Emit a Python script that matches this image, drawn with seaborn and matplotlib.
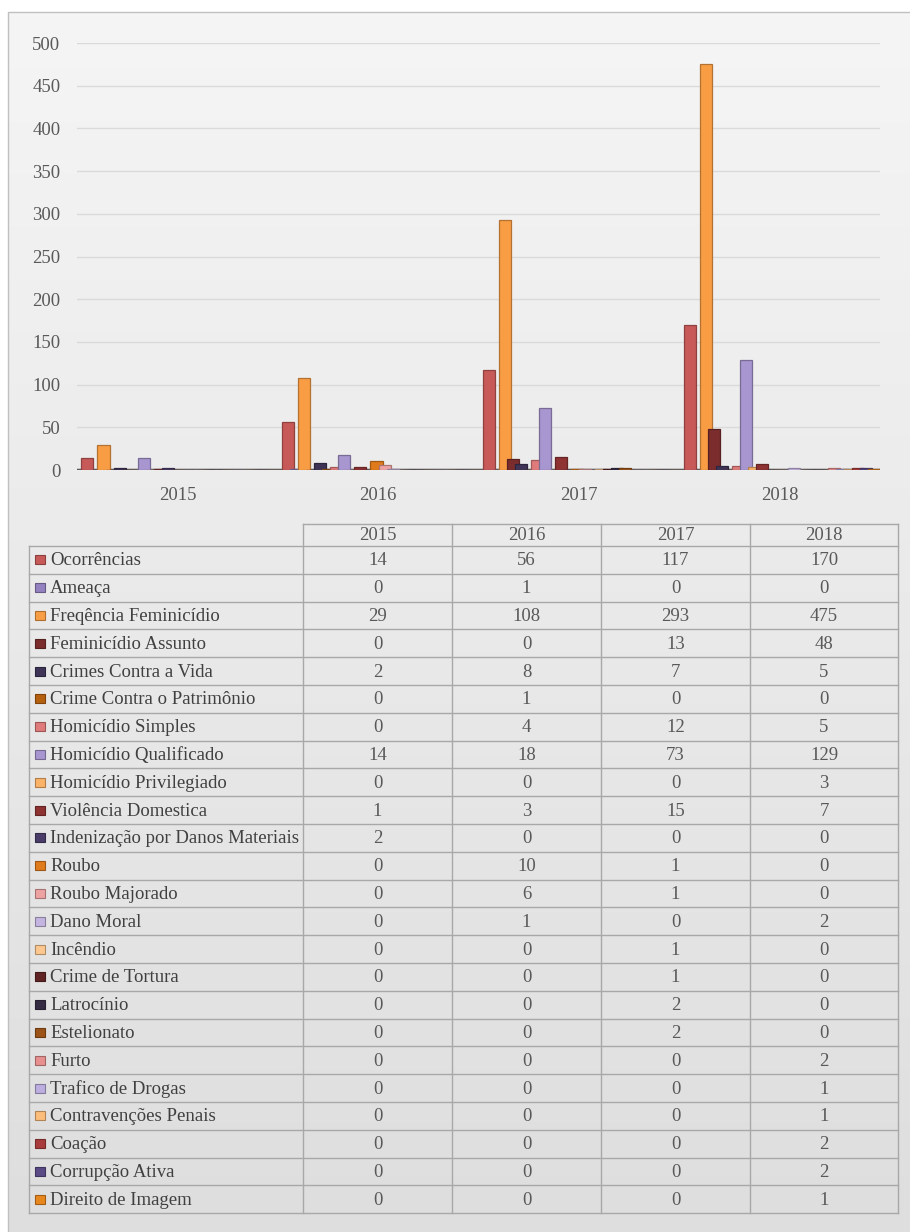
import numpy as np
import pandas as pd
import matplotlib
matplotlib.use('Agg')
import matplotlib.pyplot as plt
import matplotlib.colors as mcolors
from matplotlib.patches import Rectangle
import seaborn as sns

# Data
years = ['2015', '2016', '2017', '2018']
crimes = [
    'Ocorrências', 'Ameaça', 'Freqência Feminicídio', 'Feminicídio Assunto',
    'Crimes Contra a Vida', 'Crime Contra o Patrimônio', 'Homicídio Simples',
    'Homicídio Qualificado', 'Homicídio Privilegiado', 'Violência Domestica',
    'Indenização por Danos Materiais', 'Roubo', 'Roubo Majorado', 'Dano Moral',
    'Incêndio', 'Crime de Tortura', 'Latrocínio', 'Estelionato', 'Furto',
    'Trafico de Drogas', 'Contravenções Penais', 'Coação', 'Corrupção Ativa',
    'Direito de Imagem',
]
v2015 = [14, 0, 29, 0, 2, 0, 0, 14, 0, 1, 2, 0, 0, 0, 0, 0, 0, 0, 0, 0, 0, 0, 0, 0]
v2016 = [56, 1, 108, 0, 8, 1, 4, 18, 0, 3, 0, 10, 6, 1, 0, 0, 0, 0, 0, 0, 0, 0, 0, 0]
v2017 = [117, 0, 293, 13, 7, 0, 12, 73, 0, 15, 0, 1, 1, 0, 1, 1, 2, 2, 0, 0, 0, 0, 0, 0]
v2018 = [170, 0, 475, 48, 5, 0, 5, 129, 3, 7, 0, 0, 0, 2, 0, 0, 0, 0, 2, 1, 1, 2, 2, 1]

colors = [
    '#c75a58', '#9481c0', '#f99d45', '#7a2d2c', '#3f3456', '#b5600f',
    '#e07b7b', '#a796cf', '#fbb36a', '#8e3232', '#4a3c68', '#e07b1c',
    '#eea3a3', '#c4b5e0', '#fcc890', '#612424', '#352c44', '#9c5418',
    '#e89090', '#bcaee0', '#fdbd7a', '#a83c3c', '#5a4a85', '#e8871e',
]

wide = pd.DataFrame({'crime': crimes, '2015': v2015, '2016': v2016,
                     '2017': v2017, '2018': v2018})
df = wide.melt(id_vars='crime', var_name='year', value_name='count')


def darker(c, f=0.7):
    r, g, b = mcolors.to_rgb(c)
    return (r * f, g * f, b * f)


plt.rcParams['font.family'] = ['Liberation Serif', 'DejaVu Serif']

W, H = 910, 1232
fig = plt.figure(figsize=(W / 100, H / 100), dpi=100)
fig.patch.set_facecolor('white')


def px(x0, y0, x1, y1):
    return [x0 / W, 1 - y1 / H, (x1 - x0) / W, (y1 - y0) / H]


# background panel with soft gradient
bg = fig.add_axes(px(8, 12, W, H))
grad = np.linspace(0, 1, 256).reshape(-1, 1)
cmap = mcolors.LinearSegmentedColormap.from_list('bg', ['#f5f5f5', '#dedede'])
bg.imshow(grad, aspect='auto', cmap=cmap, extent=[0, 1, 0, 1])
bg.set_axis_off()
fig.patches.append(Rectangle((8 / W, -0.01), 1, 1 - 12 / H + 0.01,
                             transform=fig.transFigure, fill=False,
                             edgecolor='#c0c0c0', lw=1))

# --- BAR CHART ---
ax = fig.add_axes(px(77, 43, 880, 470))
ax.set_facecolor('none')
sns.barplot(data=df, x='year', y='count', hue='crime', order=years,
            hue_order=crimes, palette=colors, width=0.96, saturation=1,
            legend=False, ax=ax)

# widen bars a bit so they overlap like the 3D columns
for p in ax.patches:
    w = p.get_width()
    p.set_x(p.get_x() - w * 0.25 + 0.012)
    p.set_width(w * 1.5)
    fc = p.get_facecolor()
    p.set_edgecolor(darker(fc[:3], 0.72))
    p.set_linewidth(0.9)

ax.set_ylim(0, 500)
ax.set_xlim(-0.5, 3.5)
ax.set_yticks(range(0, 501, 50))
ax.tick_params(axis='y', length=0, pad=12, labelsize=13.5, labelcolor='#595959')
ax.tick_params(axis='x', length=0, pad=12, labelsize=13.5, labelcolor='#595959')
ax.set_xlabel('')
ax.set_ylabel('')
for s in ax.spines.values():
    s.set_visible(False)
ax.grid(axis='y', color='#dadada', lw=1)
ax.set_axisbelow(True)
ax.axhline(0, color='#3f3f3f', lw=2.5, zorder=0.5)

# --- DATA TABLE ---
tab = fig.add_axes([0, 0, 1, 1])
tab.set_xlim(0, W)
tab.set_ylim(H, 0)
tab.set_axis_off()
tab.patch.set_alpha(0)

col_x = [29, 303, 452, 601, 750, 898]
head_top, row_top, pitch = 524, 546, 27.8
n = len(crimes)
line_c = '#a8a8a8'

# horizontal lines
tab.plot([col_x[1], col_x[-1]], [head_top, head_top], color=line_c, lw=1)
for i in range(n + 1):
    y = row_top + i * pitch
    tab.plot([col_x[0], col_x[-1]], [y, y], color=line_c, lw=1)
# vertical lines
bottom = row_top + n * pitch
tab.plot([col_x[0], col_x[0]], [row_top, bottom], color=line_c, lw=1)
for x in col_x[1:]:
    tab.plot([x, x], [head_top, bottom], color=line_c, lw=1)

# header
for j, yr in enumerate(years):
    xc = (col_x[j + 1] + col_x[j + 2]) / 2
    tab.text(xc, (head_top + row_top) / 2 + 1, yr, ha='center', va='center',
             fontsize=13.5, color='#595959')

values = [v2015, v2016, v2017, v2018]
for i, crime in enumerate(crimes):
    yc = row_top + (i + 0.5) * pitch
    tab.add_patch(Rectangle((35, yc - 4.5), 10, 9, facecolor=colors[i],
                            edgecolor=darker(colors[i], 0.7), lw=0.8))
    tab.text(50, yc + 1, crime, ha='left', va='center', fontsize=13.5,
             color='#404040')
    for j in range(4):
        xc = (col_x[j + 1] + col_x[j + 2]) / 2
        tab.text(xc, yc + 1, str(values[j][i]), ha='center', va='center',
                 fontsize=13.5, color='#595959')

fig.savefig('out.png', dpi=100, facecolor=fig.get_facecolor())
